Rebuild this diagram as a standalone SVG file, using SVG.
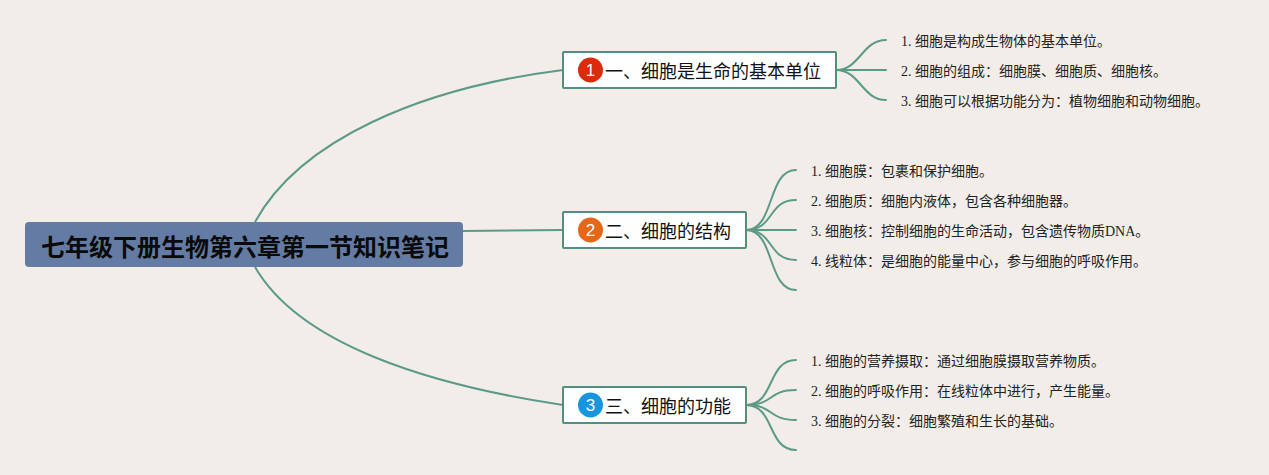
<svg xmlns="http://www.w3.org/2000/svg" width="1269" height="475" viewBox="0 0 1269 475">
<style>
.link{fill:none;stroke:#5b9a88;stroke-width:2;stroke-linecap:round}
.main{fill:none;stroke:#5b9a88;stroke-width:2}
.box{fill:#fff;stroke:#4f9080;stroke-width:2}
.t{font-family:"Liberation Sans","Noto Sans CJK SC",sans-serif;font-size:18px;fill:#111}
.l{font-family:"Liberation Serif","Noto Sans CJK SC",serif;font-size:14px;fill:#222}
.n{font-family:"Liberation Sans","Noto Sans CJK SC",sans-serif;font-size:17px;fill:#fff;text-anchor:middle}
</style>
<rect width="1269" height="475" fill="#f2ede8"/>
<g id="connectors">
<path class="main" d="M255 222C300 140 420 88 563 70"/>
<path class="main" d="M463 231L563 230"/>
<path class="main" d="M255 267C300 345 430 385 563 405"/>
<path class="link" d="M836 70C860 70 862 40 886 40"/>
<path class="link" d="M836 70H886"/>
<path class="link" d="M836 70C860 70 862 100 886 100"/>
<path class="link" d="M746 230C775 230 767 170 796 170"/>
<path class="link" d="M746 230C775 230 767 200 796 200"/>
<path class="link" d="M746 230H796"/>
<path class="link" d="M746 230C775 230 767 260 796 260"/>
<path class="link" d="M746 230C775 230 767 290 796 290"/>
<path class="link" d="M746 405C775 405 767 360 796 360"/>
<path class="link" d="M746 405C775 405 767 390 796 390"/>
<path class="link" d="M746 405C775 405 767 420 796 420"/>
<path class="link" d="M746 405C775 405 767 450 796 450"/>
</g>
<g id="root">
<rect x="25" y="222" width="438" height="45" rx="4" fill="#647ba3"/>
<text x="41" y="256" font-family="Liberation Sans,Noto Sans CJK SC,sans-serif" font-size="24" font-weight="700" fill="#0a0a0a">七年级下册生物第六章第一节知识笔记</text>
</g>
<g id="node1">
<rect class="box" x="563" y="52" width="273" height="36" rx="1"/>
<circle cx="590.500" cy="70" r="12.500" fill="#dc2a0c"/>
<text class="n" x="590.500" y="76">1</text>
<text class="t" x="605" y="78">一、细胞是生命的基本单位</text>
</g>
<g id="node2">
<rect class="box" x="563" y="212" width="183" height="36" rx="1"/>
<circle cx="590.500" cy="230" r="12.500" fill="#e5671a"/>
<text class="n" x="590.500" y="236">2</text>
<text class="t" x="605" y="238">二、细胞的结构</text>
</g>
<g id="node3">
<rect class="box" x="563" y="387" width="183" height="36" rx="1"/>
<circle cx="590.500" cy="405" r="12.500" fill="#1796de"/>
<text class="n" x="590.500" y="411">3</text>
<text class="t" x="605" y="413">三、细胞的功能</text>
</g>
<g id="leaves1">
<text class="l" x="901" y="46">1. 细胞是构成生物体的基本单位。</text>
<text class="l" x="901" y="76">2. 细胞的组成：细胞膜、细胞质、细胞核。</text>
<text class="l" x="901" y="106">3. 细胞可以根据功能分为：植物细胞和动物细胞。</text>
</g>
<g id="leaves2">
<text class="l" x="811" y="176">1. 细胞膜：包裹和保护细胞。</text>
<text class="l" x="811" y="206">2. 细胞质：细胞内液体，包含各种细胞器。</text>
<text class="l" x="811" y="236">3. 细胞核：控制细胞的生命活动，包含遗传物质DNA。</text>
<text class="l" x="811" y="266">4. 线粒体：是细胞的能量中心，参与细胞的呼吸作用。</text>
</g>
<g id="leaves3">
<text class="l" x="811" y="366">1. 细胞的营养摄取：通过细胞膜摄取营养物质。</text>
<text class="l" x="811" y="396">2. 细胞的呼吸作用：在线粒体中进行，产生能量。</text>
<text class="l" x="811" y="426">3. 细胞的分裂：细胞繁殖和生长的基础。</text>
</g>
</svg>
